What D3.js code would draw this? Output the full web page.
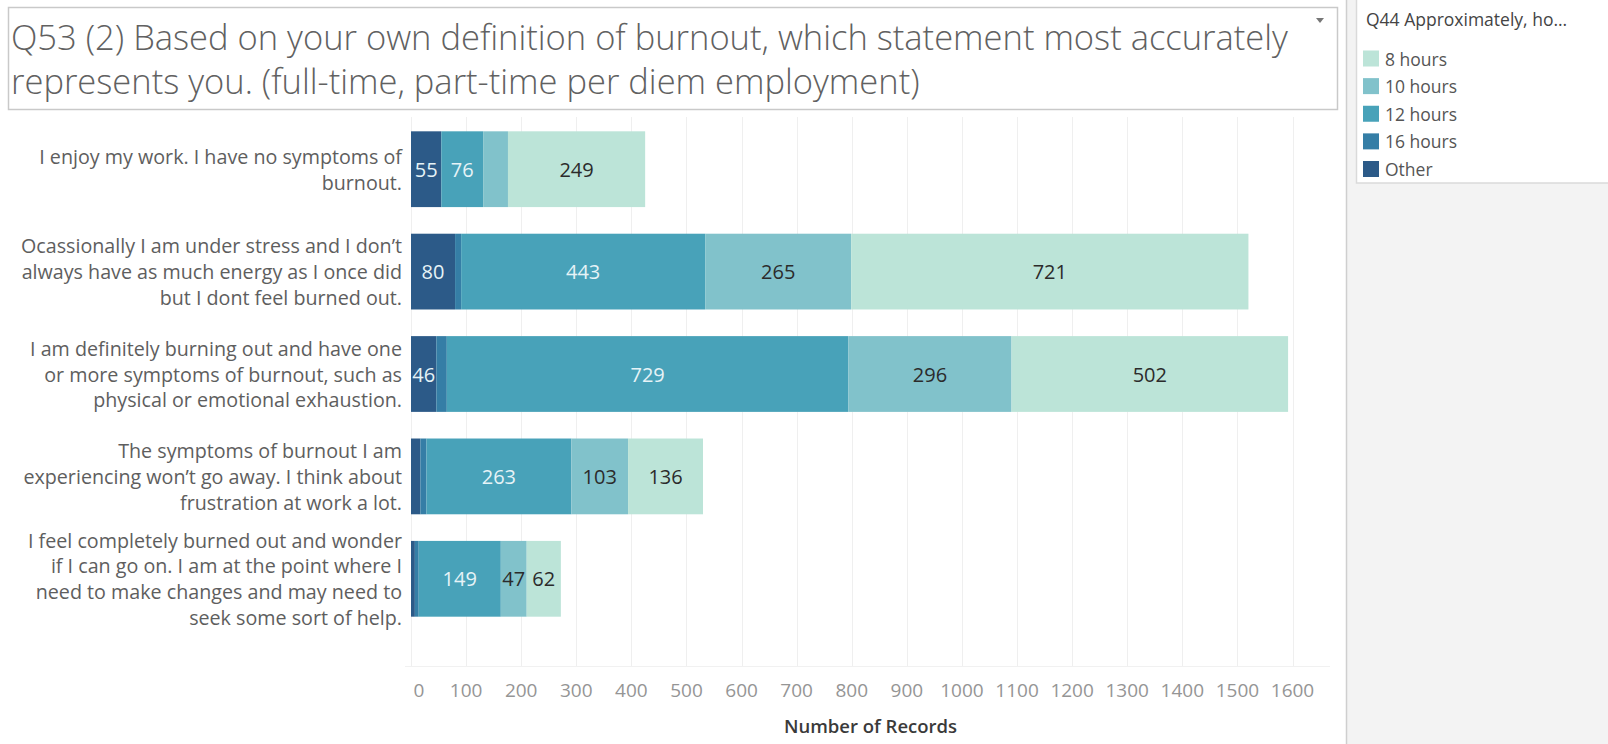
<!DOCTYPE html>
<html>
<head>
<meta charset="utf-8">
<script src="https://cdn.jsdelivr.net/npm/d3@7/dist/d3.min.js"></script>
<style>
  html, body { margin: 0; padding: 0; background: #fff; }
  svg { display: block; }
  text { font-family: "Open Sans", "DejaVu Sans", sans-serif; }
</style>
</head>
<body>
<svg id="chart" width="1608" height="744"></svg>
<script>
// ---------------- DATA ----------------
const titleLines = [
  "Q53 (2) Based on your own definition of burnout, which statement most accurately",
  "represents you. (full-time, part-time per diem employment)"
];
const categories = [
  ["I enjoy my work. I have no symptoms of", "burnout."],
  ["Ocassionally I am under stress and I don\u2019t", "always have as much energy as I once did", "but I dont feel burned out."],
  ["I am definitely burning out and have one", "or more symptoms of burnout, such as", "physical or emotional exhaustion."],
  ["The symptoms of burnout I am", "experiencing won\u2019t go away. I think about", "frustration at work a lot."],
  ["I feel completely burned out and wonder", "if I can go on. I am at the point where I", "need to make changes and may need to", "seek some sort of help."]
];
// stacking order (left to right)
const seriesNames = ["Other", "16 hours", "12 hours", "10 hours", "8 hours"];
const valuesOther = [55, 80, 46, 17, 7];
const values16h   = [0, 11, 19, 11, 7];
const values12h   = [76, 443, 729, 263, 149];
const values10h   = [45, 265, 296, 103, 47];
const values8h    = [249, 721, 502, 136, 62];
const legendOrder = ["8 hours", "10 hours", "12 hours", "16 hours", "Other"];
const legendTitle = "Q44 Approximately, ho...";
const xTicks = [0, 100, 200, 300, 400, 500, 600, 700, 800, 900, 1000, 1100, 1200, 1300, 1400, 1500, 1600];
const xAxisTitle = "Number of Records";
const labelMin = 46; // values below this are not labelled

// ---------------- STYLE ----------------
const colors = {
  "8 hours": "#bce4d8",
  "10 hours": "#81c2cb",
  "12 hours": "#48a2b9",
  "16 hours": "#357ea6",
  "Other": "#2c5a88"
};
const darkSeries = new Set(["Other", "16 hours", "12 hours"]);

const svg = d3.select("#chart");
const W = 1608, H = 744;

// backgrounds
svg.append("rect").attr("x", 0).attr("y", 0).attr("width", W).attr("height", H).attr("fill", "#ffffff");
svg.append("rect").attr("x", 1346).attr("y", 0).attr("width", W - 1346).attr("height", H).attr("fill", "#f3f3f3");
svg.append("line").attr("x1", 1346.5).attr("x2", 1346.5).attr("y1", 0).attr("y2", H).attr("stroke", "#cfcfcf").attr("stroke-width", 1.5);

// data table
const rows = categories.map((c, i) => ({
  key: i,
  "Other": valuesOther[i], "16 hours": values16h[i], "12 hours": values12h[i],
  "10 hours": values10h[i], "8 hours": values8h[i]
}));
const stacked = d3.stack().keys(seriesNames)(rows);

// scales
const x = d3.scaleLinear().domain([0, 1600]).range([411, 1292.5]);
const y = d3.scaleBand().domain(d3.range(categories.length)).range([118, 630]).paddingInner(0.26).paddingOuter(0.13);

// gridlines
svg.append("g").selectAll("line").data(xTicks).join("line")
  .attr("x1", d => Math.round(x(d)) + 0.5).attr("x2", d => Math.round(x(d)) + 0.5)
  .attr("y1", 117).attr("y2", 666)
  .attr("stroke", "#efefef").attr("stroke-width", 1);
svg.append("line").attr("x1", 405).attr("x2", 1330).attr("y1", 666.5).attr("y2", 666.5)
  .attr("stroke", "#f1f1f1").attr("stroke-width", 1);

// bars
const layer = svg.append("g").selectAll("g").data(stacked).join("g")
  .attr("fill", d => colors[d.key]);
layer.selectAll("rect").data(d => d).join("rect")
  .attr("x", d => x(d[0]))
  .attr("width", d => x(d[1]) - x(d[0]))
  .attr("y", d => y(d.data.key))
  .attr("height", y.bandwidth());

// bar labels
const labG = svg.append("g");
stacked.forEach(s => {
  s.forEach(d => {
    const v = d[1] - d[0];
    if (v < labelMin) return;
    labG.append("text")
      .attr("x", (x(d[0]) + x(d[1])) / 2)
      .attr("y", y(d.data.key) + y.bandwidth() / 2)
      .attr("text-anchor", "middle")
      .attr("dominant-baseline", "central")
      .attr("font-size", 20)
      .attr("fill", darkSeries.has(s.key) ? "#e6f3f7" : "#2b2b2b")
      .text(v);
  });
});

// category labels
const lineH = 25.8;
categories.forEach((lines, i) => {
  const cy = y(i) + y.bandwidth() / 2;
  const t = svg.append("text")
    .attr("text-anchor", "end")
    .attr("font-size", 19.7)
    .attr("fill", "#5e5e5e");
  lines.forEach((ln, j) => {
    t.append("tspan")
      .attr("x", 402)
      .attr("y", cy + (j - (lines.length - 1) / 2) * lineH)
      .attr("dominant-baseline", "central")
      .text(ln);
  });
});

// x axis tick labels
svg.append("g").selectAll("text").data(xTicks).join("text")
  .attr("x", d => d === 0 ? x(d) + 8 : x(d))
  .attr("y", 690)
  .attr("text-anchor", "middle")
  .attr("dominant-baseline", "central")
  .attr("font-size", 19)
  .attr("fill", "#959595")
  .text(d => d);

svg.append("text")
  .attr("x", (411 + 1330) / 2).attr("y", 725)
  .attr("text-anchor", "middle").attr("dominant-baseline", "central")
  .attr("font-size", 18.5).attr("font-weight", 600).attr("fill", "#3a3a3a")
  .text(xAxisTitle);

// title box
svg.append("rect").attr("x", 8.5).attr("y", 7.5).attr("width", 1329).attr("height", 102)
  .attr("fill", "#ffffff").attr("stroke", "#c9c9c9").attr("stroke-width", 1.5);
titleLines.forEach((ln, i) => {
  svg.append("text")
    .attr("x", 11).attr("y", 36.5 + i * 43.5)
    .attr("dominant-baseline", "central")
    .attr("font-size", 34.5).attr("font-weight", 300).attr("fill", "#616161")
    .text(ln);
});
svg.append("path").attr("d", "M1316,18 L1324,18 L1320,23 Z").attr("fill", "#777");

// legend
const lg = svg.append("g");
lg.append("rect").attr("x", 1356.5).attr("y", -1).attr("width", 260).attr("height", 184)
  .attr("fill", "#ffffff").attr("stroke", "#dadada").attr("stroke-width", 1.5);
lg.append("text").attr("x", 1366).attr("y", 19).attr("dominant-baseline", "central")
  .attr("font-size", 17.5).attr("fill", "#444").text(legendTitle);
const ly = d3.scalePoint().domain(legendOrder).range([58.5, 169]);
lg.selectAll("rect.sw").data(legendOrder).join("rect").attr("class", "sw")
  .attr("x", 1363).attr("y", d => ly(d) - 8).attr("width", 16).attr("height", 16)
  .attr("fill", d => colors[d]);
lg.selectAll("text.it").data(legendOrder).join("text").attr("class", "it")
  .attr("x", 1385).attr("y", d => ly(d)).attr("dominant-baseline", "central")
  .attr("font-size", 17.5).attr("fill", "#555").text(d => d);
</script>
</body>
</html>
